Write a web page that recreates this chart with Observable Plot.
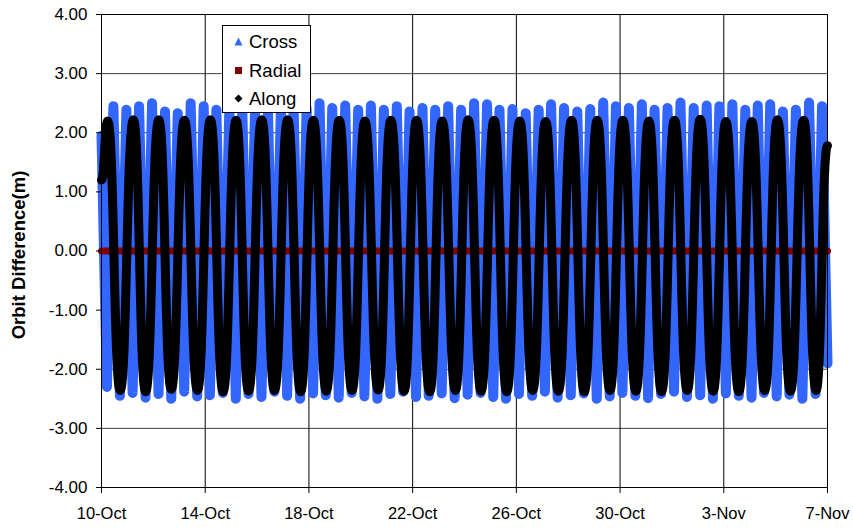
<!DOCTYPE html>
<html>
<head>
<meta charset="utf-8">
<script src="https://cdn.jsdelivr.net/npm/d3@7"></script>
<script src="https://cdn.jsdelivr.net/npm/@observablehq/plot@0.6"></script>
<style>
  body { margin: 0; background: #fff; }
  #chart { position: relative; width: 853px; height: 530px; font-family: "Liberation Sans", Arial, sans-serif; color: #000; }
  #ytitle { position: absolute; left: 19px; top: 255px; transform: translate(-50%, -50%) rotate(-90deg); font-weight: bold; font-size: 18.5px; white-space: nowrap; }
  .legend { position: absolute; left: 222px; top: 25px; width: 89px; height: 88px; border: 1px solid #000; background: #fff; box-sizing: border-box; font-size: 18.5px; }
  .legend .row { position: absolute; left: 0; height: 22px; line-height: 22px; }
  .legend svg { position: absolute; left: 11px; top: 6px; }
  .legend span { position: absolute; left: 26px; top: 0; white-space: nowrap; }
</style>
</head>
<body>
<div id="chart"></div>
<script>
// Orbit difference (m) over 28 days starting 10-Oct; x is days since 10-Oct 00:00.

// Axis ticks and their labels
const xTickDays = [0, 4, 8, 12, 16, 20, 24, 28];
const xTickLabels = ["10-Oct", "14-Oct", "18-Oct", "22-Oct", "26-Oct", "30-Oct", "3-Nov", "7-Nov"];
const yTicks = [-4, -3, -2, -1, 0, 1, 2, 3, 4];
const yTickLabels = ["-4.00", "-3.00", "-2.00", "-1.00", "0.00", "1.00", "2.00", "3.00", "4.00"];

// Cross-track: twice-daily swing, extremes per half cycle
const crossPeakDay = [0.46, 0.96, 1.45, 1.95, 2.45, 2.94, 3.44, 3.94, 4.43, 4.93, 5.43, 5.92, 6.42, 6.92,
  7.41, 7.91, 8.41, 8.90, 9.40, 9.90, 10.39, 10.89, 11.39, 11.88, 12.38, 12.87, 13.37, 13.87,
  14.37, 14.87, 15.35, 15.85, 16.36, 16.86, 17.34, 17.84, 18.35, 18.85, 19.35, 19.84, 20.34, 20.84,
  21.33, 21.83, 22.33, 22.84, 23.34, 23.83, 24.33, 24.83, 25.31, 25.79, 26.28, 26.78, 27.29, 27.79];
const crossPeakValue = [2.45, 2.39, 2.45, 2.50, 2.36, 2.33, 2.50, 2.45, 2.39, 2.42, 2.42, 2.36, 2.36, 2.45,
  2.42, 2.42, 2.50, 2.42, 2.46, 2.39, 2.46, 2.39, 2.45, 2.36, 2.42, 2.39, 2.45, 2.39,
  2.50, 2.48, 2.39, 2.40, 2.33, 2.39, 2.48, 2.42, 2.36, 2.40, 2.51, 2.45, 2.42, 2.48,
  2.39, 2.42, 2.51, 2.42, 2.46, 2.45, 2.48, 2.39, 2.46, 2.48, 2.36, 2.39, 2.51, 2.45];
const crossTroughDay = [0.21, 0.71, 1.20, 1.70, 2.20, 2.69, 3.19, 3.69, 4.18, 4.68, 5.18, 5.67, 6.17, 6.67,
  7.16, 7.66, 8.16, 8.65, 9.15, 9.65, 10.14, 10.64, 11.14, 11.63, 12.13, 12.62, 13.12, 13.62,
  14.12, 14.62, 15.11, 15.60, 16.10, 16.61, 17.10, 17.59, 18.10, 18.60, 19.10, 19.60, 20.09, 20.59,
  21.08, 21.58, 22.08, 22.58, 23.09, 23.58, 24.08, 24.58, 25.07, 25.55, 26.04, 26.53, 27.03, 27.54];
const crossTroughValue = [-2.30, -2.45, -2.40, -2.48, -2.42, -2.50, -2.38, -2.46, -2.44, -2.40, -2.50, -2.42, -2.47, -2.38,
  -2.45, -2.50, -2.41, -2.44, -2.48, -2.40, -2.46, -2.50, -2.42, -2.38, -2.47, -2.45, -2.41, -2.49,
  -2.43, -2.40, -2.47, -2.50, -2.42, -2.45, -2.38, -2.48, -2.44, -2.41, -2.50, -2.46, -2.40, -2.45,
  -2.49, -2.42, -2.38, -2.47, -2.44, -2.50, -2.41, -2.45, -2.48, -2.40, -2.46, -2.43, -2.50, -2.42];
const crossEdgeDay = [0, 28];
const crossEdgeValue = [1.95, -1.90];

// Radial: flat at zero across the whole span
const radialDay = [0, 2, 4, 6, 8, 10, 12, 14, 16, 18, 20, 22, 24, 26, 28];
const radialValue = [0.00, 0.00, 0.00, 0.00, 0.00, 0.00, 0.00, 0.00, 0.00, 0.00, 0.00, 0.00, 0.00, 0.00, 0.00];

// Along-track: once-daily swing, extremes per half cycle
const alongPeakDay = [0.24, 1.23, 2.21, 3.20, 4.20, 5.19, 6.18, 7.18, 8.17, 9.17, 10.16, 11.16, 12.15, 13.14,
  14.14, 15.14, 16.13, 17.13, 18.13, 19.12, 20.11, 21.11, 22.10, 23.09, 24.08, 25.08, 26.07, 27.08];
const alongPeakValue = [2.20, 2.22, 2.22, 2.21, 2.22, 2.21, 2.22, 2.22, 2.21, 2.21, 2.20, 2.21, 2.21, 2.20,
  2.22, 2.21, 2.20, 2.19, 2.21, 2.21, 2.21, 2.20, 2.21, 2.23, 2.19, 2.19, 2.22, 2.21];
const alongTroughDay = [0.72, 1.70, 2.69, 3.70, 4.69, 5.67, 6.67, 7.68, 8.67, 9.66, 10.67, 11.67, 12.66, 13.65,
  14.64, 15.63, 16.63, 17.62, 18.62, 19.61, 20.61, 21.60, 22.59, 23.59, 24.58, 25.58, 26.57, 27.56];
const alongTroughValue = [-2.36, -2.38, -2.34, -2.36, -2.38, -2.37, -2.36, -2.38, -2.37, -2.36, -2.35, -2.37, -2.38, -2.36,
  -2.37, -2.38, -2.36, -2.37, -2.38, -2.36, -2.37, -2.38, -2.36, -2.37, -2.38, -2.36, -2.37, -2.36];
const alongEdgeDay = [0, 28];
const alongEdgeValue = [1.20, 1.78];

// Merge extremes and edge points into one time-ordered table per series
function series(dayLists, valueLists) {
  const rows = [];
  dayLists.forEach((days, k) => days.forEach((d, i) => rows.push({day: d, value: valueLists[k][i]})));
  return rows.sort((a, b) => a.day - b.day);
}
const cross = series([crossEdgeDay, crossPeakDay, crossTroughDay], [crossEdgeValue, crossPeakValue, crossTroughValue]);
const radial = series([radialDay], [radialValue]);
const along = series([alongEdgeDay, alongPeakDay, alongTroughDay], [alongEdgeValue, alongPeakValue, alongTroughValue]);

const font = '"Liberation Sans", Arial, sans-serif';

const chart = Plot.plot({
  width: 853,
  height: 530,
  marginLeft: 101,
  marginRight: 26,
  marginTop: 14,
  marginBottom: 43,
  style: {fontFamily: font, fontSize: "17px", color: "#000", background: "#fff", overflow: "visible"},
  x: {domain: [0, 28]},
  y: {domain: [-4, 4]},
  marks: [
    Plot.gridX(xTickDays, {stroke: "#000", strokeOpacity: 1}),
    Plot.gridY(yTicks, {stroke: "#000", strokeOpacity: 0.75}),
    Plot.line(cross, {x: "day", y: "value", stroke: "#3366ff", strokeWidth: 10, strokeLinejoin: "round", strokeLinecap: "round"}),
    Plot.line(radial, {x: "day", y: "value", stroke: "#800000", strokeWidth: 7}),
    Plot.line(along, {x: "day", y: "value", curve: "bump-x", stroke: "#000", strokeWidth: 9, strokeLinecap: "round"}),
    Plot.frame({stroke: "#000"}),
    Plot.axisX({ticks: xTickDays, tickFormat: d => xTickLabels[xTickDays.indexOf(d)], tickSize: 6, tickPadding: 14, label: null, fontSize: 16.5}),
    Plot.axisY({ticks: yTicks, tickFormat: d => yTickLabels[yTicks.indexOf(d)], tickSize: 5, tickPadding: 9, label: null, fontSize: 17})
  ]
});

const root = document.getElementById("chart");
root.appendChild(chart);

const title = document.createElement("div");
title.id = "ytitle";
title.textContent = "Orbit Difference(m)";
root.appendChild(title);

// Legend box inside the plot area
const legendItems = [
  {name: "Cross", color: "#3366ff", shape: "triangle"},
  {name: "Radial", color: "#800000", shape: "square"},
  {name: "Along", color: "#000", shape: "diamond"}
];
const legend = document.createElement("div");
legend.className = "legend";
legendItems.forEach((item, i) => {
  const row = document.createElement("div");
  row.className = "row";
  row.style.top = (5 + i * 28.5) + "px";
  let glyph;
  if (item.shape === "triangle") glyph = '<polygon points="4.5,0.5 8.5,8.5 0.5,8.5" fill="' + item.color + '"/>';
  else if (item.shape === "square") glyph = '<rect x="1" y="1" width="7" height="7" fill="' + item.color + '"/>';
  else glyph = '<polygon points="4.5,0.5 8.5,4.5 4.5,8.5 0.5,4.5" fill="' + item.color + '"/>';
  row.innerHTML = '<svg width="9" height="9">' + glyph + '</svg><span>' + item.name + '</span>';
  legend.appendChild(row);
});
root.appendChild(legend);
</script>
</body>
</html>
